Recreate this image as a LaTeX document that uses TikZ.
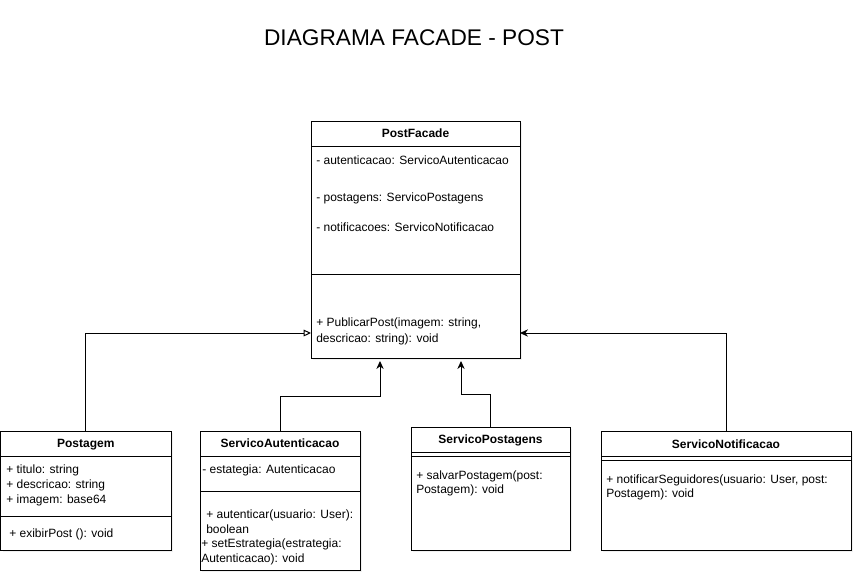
\documentclass[tikz,border=0pt]{standalone}
\usepackage{fontspec}
\setmainfont{Liberation Sans}
\usetikzlibrary{arrows.meta,shadows}
\begin{document}
\begin{tikzpicture}[x=0.75pt,y=-0.75pt,
  box/.style={draw, line width=0.75pt, fill=white, drop shadow={shadow xshift=1.5pt, shadow yshift=-1.5pt, opacity=0.12}, anchor=north west, inner sep=0, outer sep=0},
  txt/.style={anchor=base west, inner sep=0, font=\fontsize{9}{11}\selectfont},
  ttl/.style={anchor=base, inner sep=0, font=\fontsize{9}{11}\selectfont\bfseries},
  sep/.style={line width=0.75pt},
  conn/.style={line width=0.75pt},
  assoc/.style={conn, -{Stealth[length=6pt,width=5.5pt]}},
  realize/.style={conn, -{Triangle[open,length=5.5pt,width=5pt]}},
]
\useasboundingbox (0,0) rectangle (862,582);

% title
\node[anchor=base, inner sep=0, font=\fontsize{17}{20}\selectfont] (title) at (414,45) {DIAGRAMA FACADE - POST};

% PostFacade
\node[box, minimum width=209*0.75pt, minimum height=237*0.75pt] (pf) at (311,121) {};
\draw[sep] (311,146) -- (520,146);
\draw[sep] (311,274) -- (520,274);
\node[ttl] (pft) at (415.5,137) {PostFacade};
\node[txt] (pf1) at (316,164) {- autenticacao: ServicoAutenticacao};
\node[txt] (pf2) at (316,201) {- postagens: ServicoPostagens};
\node[txt] (pf3) at (316,231) {- notificacoes: ServicoNotificacao};
\node[txt] (pf4) at (316,326) {+ PublicarPost(imagem: string,};
\node[txt] (pf5) at (316,342) {descricao: string): void};

% Postagem
\node[box, minimum width=170.5*0.75pt, minimum height=119*0.75pt] (post) at (0.5,431) {};
\draw[sep] (0.5,456) -- (171,456);
\draw[sep] (0.5,516) -- (171,516);
\node[ttl] (postt) at (85.75,447) {Postagem};
\node[txt] (post1) at (6,473) {+ titulo: string};
\node[txt] (post2) at (6,488.5) {+ descricao: string};
\node[txt] (post3) at (6,503) {+ imagem: base64};
\node[txt] (post4) at (9,537) {+ exibirPost (): void};

% ServicoAutenticacao
\node[box, minimum width=160*0.75pt, minimum height=139*0.75pt] (aut) at (200,431) {};
\draw[sep] (200,456) -- (360,456);
\draw[sep] (200,491) -- (360,491);
\node[ttl] (autt) at (280,447) {ServicoAutenticacao};
\node[txt] (aut1) at (202,473) {- estategia: Autenticacao};
\node[txt] (aut2) at (206,518) {+ autenticar(usuario: User):};
\node[txt] (aut3) at (206,533) {boolean};
\node[txt] (aut4) at (201,547) {+ setEstrategia(estrategia:};
\node[txt] (aut5) at (201,562) {Autenticacao): void};

% ServicoPostagens
\node[box, minimum width=159*0.75pt, minimum height=123*0.75pt] (sp) at (411,427) {};
\draw[sep] (411,452) -- (570,452);
\draw[sep] (411,456) -- (570,456);
\node[ttl] (spt) at (490.5,443) {ServicoPostagens};
\node[txt] (sp1) at (416,479) {+ salvarPostagem(post:};
\node[txt] (sp2) at (416,493) {Postagem): void};

% ServicoNotificacao
\node[box, minimum width=250*0.75pt, minimum height=119*0.75pt] (sn) at (601,431) {};
\draw[sep] (601,456) -- (851,456);
\draw[sep] (601,460) -- (851,460);
\node[ttl] (snt) at (726,448) {ServicoNotificacao};
\node[txt] (sn1) at (606,483) {+ notificarSeguidores(usuario: User, post:};
\node[txt] (sn2) at (606,497) {Postagem): void};

% connectors
\coordinate (c1) at (86,333);
\coordinate (c2) at (380,396);
\coordinate (c3) at (461,394);
\coordinate (c4) at (725,333);
\draw[realize] (post.north) |- (pf.west |- c1);
\draw[assoc, shorten >=2.25pt] (aut.north) |- (c2) -- (c2 |- pf.south);
\draw[assoc, shorten >=2.25pt] (sp.north) |- (c3) -- (c3 |- pf.south);
\draw[assoc] (sn.north) |- (pf.east |- c4);
\end{tikzpicture}
\end{document}
